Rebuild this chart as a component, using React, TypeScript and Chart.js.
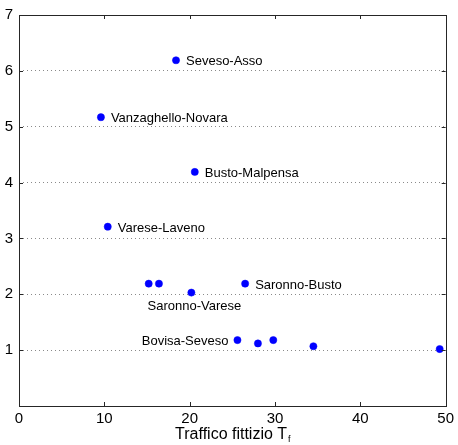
import React, { useEffect, useRef } from "react";
import { Chart, registerables } from "chart.js";
Chart.register(...registerables);

const xValues = [18.4, 9.6, 20.6, 10.4, 15.2, 16.4, 20.2, 26.5, 25.6, 28.0, 29.8, 34.5, 49.3];
const yValues = [6.19, 5.17, 4.19, 3.21, 2.19, 2.19, 2.03, 2.19, 1.18, 1.12, 1.18, 1.07, 1.02];
const pointLabels = [
  "Seveso-Asso",
  "Vanzaghello-Novara",
  "Busto-Malpensa",
  "Varese-Laveno",
  "",
  "",
  "Saronno-Varese",
  "Saronno-Busto",
  "Bovisa-Seveso",
  "",
  "",
  "",
  "",
];
const labelSides = ["right", "right", "right", "right", "", "", "below", "right", "left", "", "", "", ""];
const xTicks = [0, 10, 20, 30, 40, 50];
const yTicks = [0, 1, 2, 3, 4, 5, 6, 7];
const xTitleMain = "Traffico fittizio T";
const xTitleSub = "f";

const FONT = "'Liberation Sans', Arial, sans-serif";

const overlay = {
  id: "overlay",
  afterDraw(chart: any) {
    const { ctx, chartArea: a, scales } = chart;
    const xs = scales.x;
    const ys = scales.y;
    ctx.save();
    // box
    ctx.strokeStyle = "#262626";
    ctx.lineWidth = 1;
    ctx.strokeRect(Math.round(a.left) + 0.5, Math.round(a.top) + 0.5, Math.round(a.right - a.left), Math.round(a.bottom - a.top));
    // inside ticks
    const tl = 4;
    ctx.beginPath();
    xTicks.forEach((v) => {
      const px = Math.round(xs.getPixelForValue(v)) + 0.5;
      ctx.moveTo(px, a.bottom);
      ctx.lineTo(px, a.bottom - tl);
      ctx.moveTo(px, a.top);
      ctx.lineTo(px, a.top + tl);
    });
    yTicks.forEach((v) => {
      const py = Math.round(ys.getPixelForValue(v)) + 0.5;
      ctx.moveTo(a.left, py);
      ctx.lineTo(a.left + tl, py);
      ctx.moveTo(a.right, py);
      ctx.lineTo(a.right - tl, py);
    });
    ctx.stroke();
    // point labels
    ctx.fillStyle = "#000";
    ctx.font = `13px ${FONT}`;
    pointLabels.forEach((lab, i) => {
      if (!lab) return;
      const px = xs.getPixelForValue(xValues[i]);
      const py = ys.getPixelForValue(yValues[i]);
      const side = labelSides[i];
      ctx.textBaseline = "middle";
      if (side === "right") {
        ctx.textAlign = "left";
        ctx.fillText(lab, px + 10, py + 1.5);
      } else if (side === "left") {
        ctx.textAlign = "right";
        ctx.fillText(lab, px - 9, py + 1.5);
      } else {
        ctx.textAlign = "center";
        ctx.fillText(lab, px + 3, py + 13.5);
      }
    });
    // x title with subscript
    ctx.font = `16px ${FONT}`;
    const mainW = ctx.measureText(xTitleMain).width;
    ctx.font = `9px ${FONT}`;
    const subW = ctx.measureText(xTitleSub).width;
    const cx = (a.left + a.right) / 2;
    const startX = cx - (mainW + subW) / 2;
    const baseY = 439;
    ctx.textAlign = "left";
    ctx.textBaseline = "alphabetic";
    ctx.font = `16px ${FONT}`;
    ctx.fillText(xTitleMain, startX, baseY);
    ctx.font = `9px ${FONT}`;
    ctx.fillText(xTitleSub, startX + mainW + 1, baseY + 3);
    ctx.restore();
  },
};

export default function App() {
  const ref = useRef<HTMLCanvasElement>(null);
  useEffect(() => {
    document.body.style.margin = "0";
    const chart = new Chart(ref.current!, {
      type: "scatter",
      data: {
        datasets: [
          {
            data: xValues.map((x, i) => ({ x, y: yValues[i] })),
            backgroundColor: "#0000ff",
            borderColor: "#0000ff",
            pointRadius: 3.6,
            pointBorderWidth: 0.5,
          },
        ],
      },
      options: {
        responsive: false,
        animation: false,
        events: [],
        layout: { padding: { top: 13, right: 10, left: 0, bottom: 0 } },
        plugins: { legend: { display: false }, tooltip: { enabled: false } },
        scales: {
          x: {
            type: "linear",
            min: 0,
            max: 50,
            afterBuildTicks: (s: any) => {
              s.ticks = xTicks.map((v) => ({ value: v }));
            },
            afterFit: (s: any) => {
              s.height = 39;
            },
            grid: { display: false, drawTicks: false },
            border: { display: false },
            ticks: { color: "#000", font: { family: FONT, size: 15 }, padding: 4, maxRotation: 0 },
          },
          y: {
            type: "linear",
            min: 0,
            max: 7,
            afterBuildTicks: (s: any) => {
              s.ticks = yTicks.map((v) => ({ value: v }));
            },
            afterFit: (s: any) => {
              s.width = 19;
            },
            grid: {
              drawTicks: false,
              color: (c: any) => (c.tick && c.tick.value > 0 && c.tick.value < 7 ? "#8a8a8a" : "rgba(0,0,0,0)"),
              lineWidth: 1,
            },
            border: { display: false, dash: [1, 3] },
            ticks: {
              color: "#000",
              font: { family: FONT, size: 15 },
              padding: 6,
              callback: (v: any) => (v === 0 ? "" : String(v)),
            },
          },
        },
      },
      plugins: [overlay],
    });
    return () => chart.destroy();
  }, []);
  return (
    <div style={{ width: 458, height: 445 }}>
      <canvas ref={ref} width={458} height={445} style={{ display: "block" }} />
    </div>
  );
}
